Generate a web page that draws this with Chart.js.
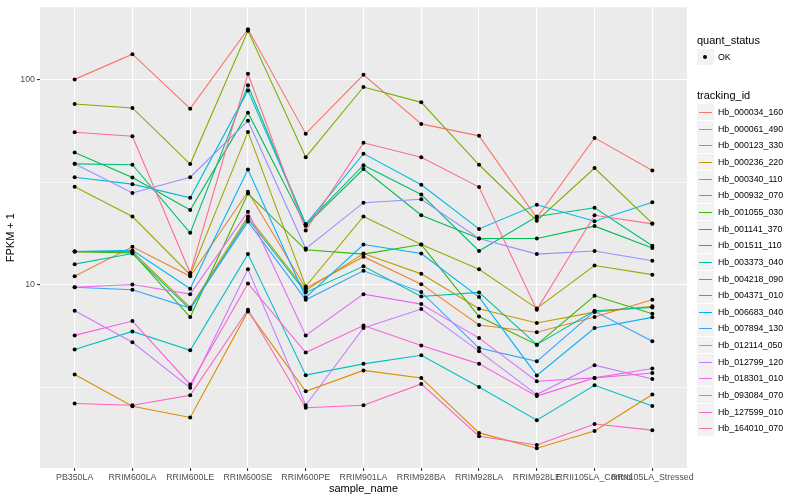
<!DOCTYPE html>
<html>
<head>
<meta charset="utf-8">
<script src="https://cdn.jsdelivr.net/npm/chart.js@4.4.0/dist/chart.umd.min.js"></script>
<style>
  body { margin: 0; background: #fff; }
  #wrap { position: relative; width: 800px; height: 500px; font-family: "Liberation Sans", Arial, sans-serif; }
  #chart { position: absolute; left: 0; top: 0; }
  .ttl { position: absolute; font-size: 11px; color: #000; line-height: 12px; white-space: nowrap; }
  .lbl { position: absolute; font-size: 8.8px; color: #000; line-height: 10px; white-space: nowrap; }
  .key { position: absolute; width: 17px; height: 16px; background: #F2F2F2; }
  .key i { position: absolute; left: 2px; width: 13px; top: 8px; height: 1px; }
  .key b { position: absolute; left: 6px; top: 6px; width: 4px; height: 4px; border-radius: 2px; background: #000; }
</style>
</head>
<body>
<div id="wrap">
  <canvas id="chart" width="800" height="500"></canvas>
  <div id="legend"></div>
</div>
<script>
// Categories
const samples = ['PB350LA', 'RRIM600LA', 'RRIM600LE', 'RRIM600SE', 'RRIM600PE', 'RRIM901LA',
    'RRIM928BA', 'RRIM928LA', 'RRIM928LE', 'RRII105LA_Control', 'RRII105LA_Stressed'];

const trackingIds = ['Hb_000034_160', 'Hb_000061_490', 'Hb_000123_330', 'Hb_000236_220', 'Hb_000340_110',
    'Hb_000932_070', 'Hb_001055_030', 'Hb_001141_370', 'Hb_001511_110', 'Hb_003373_040',
    'Hb_004218_090', 'Hb_004371_010', 'Hb_006683_040', 'Hb_007894_130', 'Hb_012114_050',
    'Hb_012799_120', 'Hb_018301_010', 'Hb_093084_070', 'Hb_127599_010', 'Hb_164010_070'];

const lineColors = ['#F8766D', '#EA8331', '#D89000', '#C09B00', '#A3A500', '#7CAE00', '#39B600', '#00BB4E',
    '#00BF7D', '#00C1A3', '#00BFC4', '#00BAE0', '#00B0F6', '#35A2FF', '#9590FF', '#C77CFF',
    '#E76BF3', '#FA62DB', '#FF62BC', '#FF6C91'];

// FPKM + 1 per sample, one array per tracking id
const hb000034_160 = [100, 132.7, 72.0, 175.5, 54.4, 105.3, 60.7, 53.1, 21.2, 51.9, 36.0];
const hb000061_490 = [11.0, 15.3, 11.0, 28.4, 9.62, 13.7, 10.07, 6.37, 5.87, 6.96, 8.46];
const hb000123_330 = [3.66, 2.56, 2.26, 7.42, 3.03, 3.83, 3.52, 1.90, 1.60, 1.94, 2.92];
const hb000236_220 = [14.5, 14.5, 7.76, 21.5, 9.39, 14.2, 11.3, 7.65, 6.51, 7.36, 7.85];
const hb000340_110 = [30.0, 21.5, 11.2, 55.5, 9.81, 21.5, 15.7, 11.9, 7.67, 12.4, 11.2];
const hb000932_070 = [75.9, 72.6, 38.7, 172.5, 41.8, 91.8, 77.3, 38.4, 20.5, 37.0, 19.9];
const hb001055_030 = [14.5, 14.3, 6.96, 27.8, 14.8, 14.1, 15.7, 7.00, 5.11, 8.84, 7.23];
const hb001141_370 = [44.0, 33.3, 23.1, 68.8, 19.4, 36.6, 21.8, 16.8, 16.8, 19.3, 15.1];
const hb001511_110 = [38.8, 38.4, 17.9, 93.5, 19.7, 38.2, 27.5, 14.6, 21.5, 23.7, 15.5];
const hb003373_040 = [12.6, 14.2, 7.59, 20.9, 9.18, 12.3, 8.77, 9.18, 5.11, 7.48, 7.76];
const hb004218_090 = [4.84, 5.93, 4.80, 14.1, 3.63, 4.12, 4.54, 3.18, 2.19, 3.24, 2.57];
const hb004371_010 = [33.4, 30.9, 26.5, 88.4, 19.7, 43.5, 30.7, 18.7, 24.5, 20.4, 25.2];
const hb006683_040 = [14.5, 14.7, 9.56, 36.4, 8.68, 15.7, 14.2, 8.71, 3.62, 6.16, 6.94];
const hb007894_130 = [9.73, 9.46, 7.70, 20.3, 8.46, 11.7, 9.21, 4.92, 4.24, 7.42, 5.31];
const hb012114_050 = [38.8, 28.0, 33.4, 62.9, 15.0, 25.1, 26.1, 16.8, 14.1, 14.6, 13.1];
const hb012799_120 = [7.48, 5.25, 3.15, 11.9, 2.59, 6.16, 7.62, 4.75, 2.92, 4.06, 3.48];
const hb018301_010 = [9.73, 10.03, 9.00, 22.7, 5.67, 9.00, 8.05, 5.50, 3.39, 3.52, 3.91];
const hb093084_070 = [5.67, 6.66, 3.27, 10.15, 4.68, 6.33, 5.06, 4.12, 2.87, 3.52, 3.72];
const hb127599_010 = [2.64, 2.59, 2.90, 7.56, 2.52, 2.59, 3.29, 1.83, 1.66, 2.10, 1.96];
const hb164010_070 = [55.3, 52.9, 11.4, 106.5, 18.4, 49.1, 41.8, 29.9, 7.56, 21.8, 19.8];

const seriesValues = [hb000034_160, hb000061_490, hb000123_330, hb000236_220, hb000340_110,
    hb000932_070, hb001055_030, hb001141_370, hb001511_110, hb003373_040,
    hb004218_090, hb004371_010, hb006683_040, hb007894_130, hb012114_050,
    hb012799_120, hb018301_010, hb093084_070, hb127599_010, hb164010_070];

// y axis: labelled breaks and minor (half-decade) gridlines
const yLabelled = [10, 100];
const yGrid = [3.1623, 10, 31.623, 100];

const toPoints = vals => vals.map((v, i) => ({ x: i + 1, y: v }));

const lineSets = seriesValues.map((vals, i) => ({
    label: trackingIds[i],
    data: toPoints(vals),
    borderColor: lineColors[i],
    borderWidth: 1.1,
    pointRadius: 0,
    tension: 0,
    order: 100 - i
}));

const pointSets = seriesValues.map((vals, i) => ({
    label: trackingIds[i] + ' OK',
    data: toPoints(vals),
    showLine: false,
    pointRadius: 2,
    pointBackgroundColor: '#000',
    pointBorderWidth: 0,
    order: 0
}));

const panelBg = {
    id: 'panelBg',
    beforeDraw(chart) {
        const { ctx, chartArea: a } = chart;
        ctx.save();
        ctx.fillStyle = '#EBEBEB';
        ctx.fillRect(a.left, a.top, a.right - a.left, a.bottom - a.top);
        ctx.restore();
    }
};

new Chart(document.getElementById('chart'), {
    type: 'line',
    data: { datasets: [...lineSets, ...pointSets] },
    plugins: [panelBg],
    options: {
        responsive: false,
        animation: false,
        events: [],
        layout: { padding: { top: 3, right: 113, left: 0, bottom: 0 } },
        plugins: { legend: { display: false }, tooltip: { enabled: false } },
        scales: {
            x: {
                type: 'linear',
                min: 0.4,
                max: 11.6,
                afterBuildTicks: s => { s.ticks = samples.map((_, i) => ({ value: i + 1 })); },
                afterFit: s => { s.height = 32; },
                border: { display: false },
                grid: { color: '#FFFFFF', lineWidth: 1.1, tickColor: '#333333', tickLength: 3 },
                ticks: {
                    autoSkip: false, maxRotation: 0, minRotation: 0, padding: 1,
                    color: '#4D4D4D', font: { family: 'Liberation Sans', size: 8.8 },
                    callback: v => samples[v - 1]
                },
                title: {
                    display: true, text: 'sample_name', color: '#000',
                    font: { family: 'Liberation Sans', size: 11 }, padding: { top: 2, bottom: 4 }
                }
            },
            y: {
                type: 'logarithmic',
                min: 1.282,
                max: 224.4,
                afterBuildTicks: s => { s.ticks = yGrid.map(v => ({ value: v })); },
                afterFit: s => { s.width = 40; },
                border: { display: false },
                grid: {
                    color: '#FFFFFF',
                    lineWidth: c => (c.tick && yLabelled.includes(c.tick.value)) ? 1.1 : 0.55,
                    tickColor: c => (c.tick && yLabelled.includes(c.tick.value)) ? '#333333' : 'rgba(0,0,0,0)',
                    tickLength: 3
                },
                ticks: {
                    padding: 2,
                    color: '#4D4D4D', font: { family: 'Liberation Sans', size: 8.8 },
                    callback: v => yLabelled.includes(v) ? String(v) : ''
                },
                title: {
                    display: true, text: 'FPKM + 1', color: '#000',
                    font: { family: 'Liberation Sans', size: 11 }, padding: { top: 4, bottom: 4 }
                }
            }
        }
    }
});

// Legend (ggplot style, two guides)
const legend = document.getElementById('legend');
let html = '';
html += '<div class="ttl" style="left:697px;top:34px">quant_status</div>';
html += '<div class="key" style="left:697px;top:49px"><b></b></div>';
html += '<div class="lbl" style="left:718px;top:52px">OK</div>';
html += '<div class="ttl" style="left:697px;top:89px">tracking_id</div>';
trackingIds.forEach((id, i) => {
    const cy = Math.round(112 + i * 16.65);
    html += `<div class="key" style="left:697px;top:${cy - 8}px"><i style="background:${lineColors[i]}"></i></div>`;
    html += `<div class="lbl" style="left:718px;top:${cy - 5}px">${id}</div>`;
});
legend.innerHTML = html;
</script>
</body>
</html>
